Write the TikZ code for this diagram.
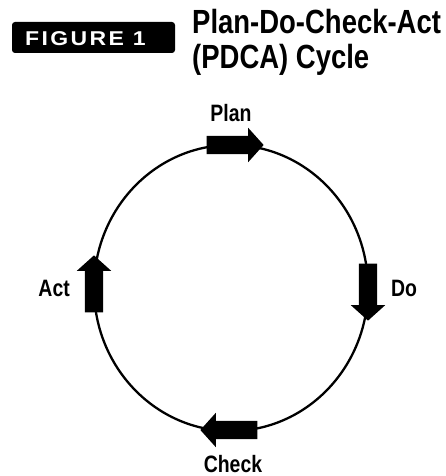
\documentclass[tikz,border=0pt]{standalone}
\usepackage{fontspec}
\newfontfamily\condfont[FakeStretch=0.82]{Liberation Sans}
\newfontfamily\tagfont[FakeStretch=1.15,LetterSpace=12]{Liberation Sans}
\usetikzlibrary{positioning,shapes.arrows}
\tikzset{
  cycleline/.style={line width=2.3pt},
  blockarrow/.style={single arrow,fill=black,draw=none,inner sep=9pt,
    minimum height=57pt,single arrow head extend=8pt,
    single arrow tip angle=96},
  stagelabel/.style={font=\condfont\bfseries\fontsize{23.7}{26}\selectfont,inner sep=0pt},
  titletext/.style={font=\condfont\bfseries\fontsize{33.5}{35}\selectfont,inner sep=0pt,align=left},
  tagtext/.style={font=\tagfont\bfseries\fontsize{20}{22}\selectfont,text=white,inner sep=0pt},
}
\begin{document}
\begin{tikzpicture}[x=1pt,y=-1pt]
  \useasboundingbox (0,0) rectangle (445,476);
  % heading
  \fill[rounded corners=3pt] (12,22) rectangle (175,53);
  \node[tagtext,anchor=base west] (figtag) at (25,46) {FIGURE 1};
  \node[titletext,anchor=north west] (title) at (192,9) {Plan-Do-Check-Act\\(PDCA) Cycle};
  % the cycle
  \draw[cycleline] (231,288) ellipse [x radius=137,y radius=143];
  \node[blockarrow] (plan) at (231,145) {};
  \node[blockarrow,shape border rotate=270] (do) at (368,288) {};
  \node[blockarrow,shape border rotate=180] (check) at (233,430) {};
  \node[blockarrow,shape border rotate=90] (act) at (94,288) {};
  % stage names
  \node[stagelabel,above=23pt of plan.center] (planlabel) {Plan};
  \node[stagelabel,right=23pt of do.center] (dolabel) {Do};
  \node[stagelabel,below=25pt of check.center] (checklabel) {Check};
  \node[stagelabel,left=24pt of act.center] (actlabel) {Act};
\end{tikzpicture}
\end{document}
